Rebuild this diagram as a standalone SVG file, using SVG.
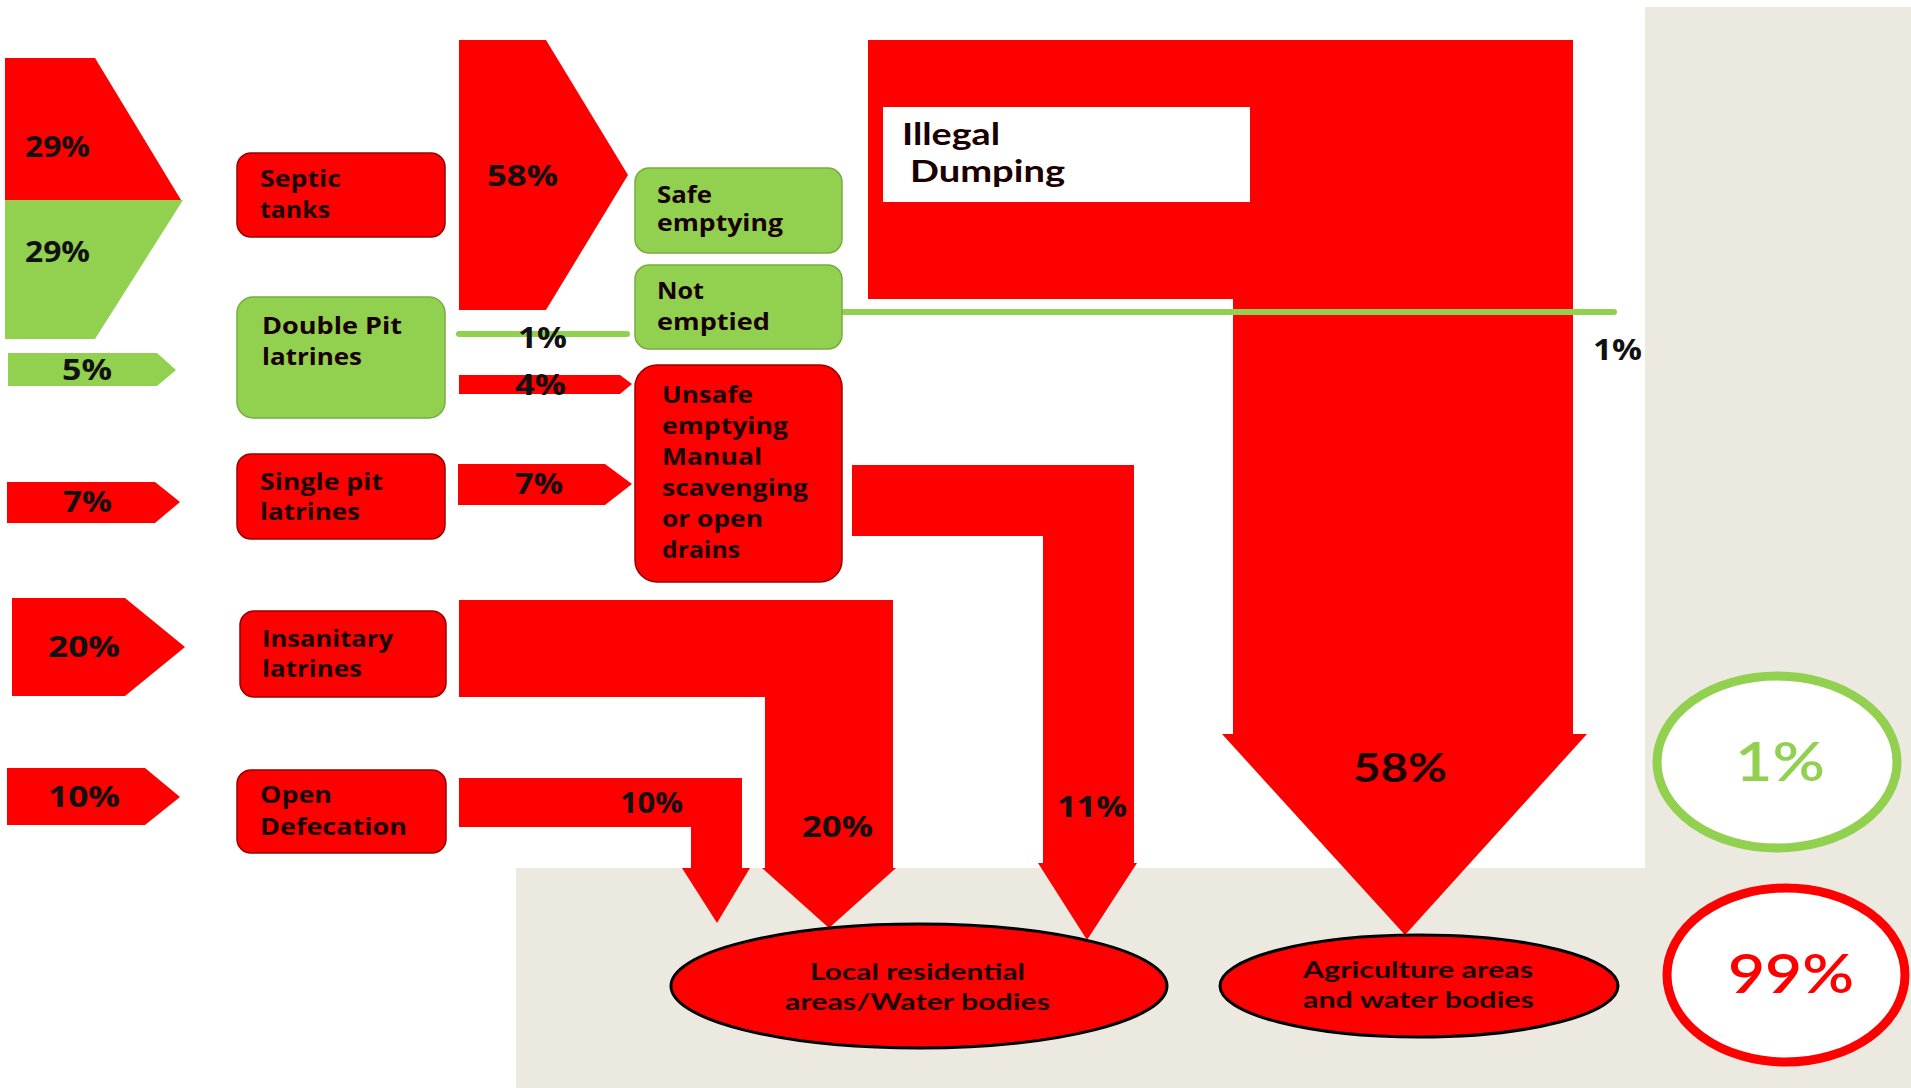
<svg xmlns="http://www.w3.org/2000/svg" width="1911" height="1088" viewBox="0 0 1911 1088">
<style>
.red{fill:#FF0000}
.grn{fill:#92D050}
.box-r{fill:#FF0000;stroke:#9a0000;stroke-width:1.5}
.box-g{fill:#92D050;stroke:#76ad3f;stroke-width:1.5}
.t{font-family:"Open Sans","DejaVu Sans",sans-serif;font-weight:bold;font-size:23px;fill:#1a0000}
.p{font-family:"Open Sans","DejaVu Sans",sans-serif;font-weight:bold;font-size:28px;fill:#111}
.c{font-family:Lato,"Open Sans",sans-serif;font-weight:bold;fill:#1a0000}
.e{fill:#FF0000;stroke:#000;stroke-width:3}
.flowline{stroke:#92D050;stroke-width:6;stroke-linecap:round;fill:none}
</style>
<rect x="0" y="0" width="1911" height="1088" fill="#ffffff"/>
<path d="M516,868 H1645 V7 H1911 V1088 H516 Z" fill="#ECE9E0"/>

<g id="connectors">
  <polygon class="red" points="5,58 95,58 181,200 5,200"/>
  <polygon class="grn" points="5,200 183,200 95,339 5,339"/>
  <polygon class="grn" points="8,353 157,353 176,370 157,386 8,386"/>
  <polygon class="red" points="7,482 155,482 180,502 155,523 7,523"/>
  <polygon class="red" points="12,598 125,598 185,647 125,696 12,696"/>
  <polygon class="red" points="7,768 145,768 180,797 145,825 7,825"/>
  <polygon class="red" points="459,40 546,40 628,175 546,310 459,310"/>
  <line class="flowline" x1="459" y1="334" x2="627" y2="334"/>
  <polygon class="red" points="459,375 620,375 632,384 620,394 459,394"/>
  <polygon class="red" points="458,464 605,464 632,484 605,505 458,505"/>
  <polygon class="red" points="459,600 893,600 893,868 896,868 829,928 762,868 765,868 765,697 459,697"/>
  <polygon class="red" points="459,778 742,778 742,868 750,868 717,923 682,868 691,868 691,827 459,827"/>
  <polygon class="red" points="852,465 1134,465 1134,863 1137,863 1087,940 1038,863 1043,863 1043,536 852,536"/>
  <polygon class="red" points="868,40 1573,40 1573,734 1587,734 1405,935 1222,734 1233,734 1233,299 868,299"/>
  <rect x="883" y="107" width="367" height="95" fill="#ffffff"/>
  <line class="flowline" x1="842" y1="312" x2="1614" y2="312"/>
  <text class="p" x="25" y="157" textLength="65" lengthAdjust="spacingAndGlyphs">29%</text>
  <text class="p" x="25" y="262" textLength="65" lengthAdjust="spacingAndGlyphs">29%</text>
  <text class="p" x="62" y="380" font-size="29" textLength="50" lengthAdjust="spacingAndGlyphs">5%</text>
  <text class="p" x="63" y="512" textLength="49" lengthAdjust="spacingAndGlyphs">7%</text>
  <text class="p" x="48" y="657" font-size="30" textLength="72" lengthAdjust="spacingAndGlyphs">20%</text>
  <text class="p" x="48" y="807" font-size="30" textLength="72" lengthAdjust="spacingAndGlyphs">10%</text>
  <text class="p" x="487" y="186" font-size="30" textLength="71" lengthAdjust="spacingAndGlyphs">58%</text>
  <text class="p" x="518" y="348" textLength="49" lengthAdjust="spacingAndGlyphs">1%</text>
  <text class="p" x="515" y="395" textLength="51" lengthAdjust="spacingAndGlyphs">4%</text>
  <text class="p" x="515" y="494" textLength="48" lengthAdjust="spacingAndGlyphs">7%</text>
  <text class="p" x="620" y="813" font-size="26" textLength="63" lengthAdjust="spacingAndGlyphs">10%</text>
  <text class="p" x="802" y="837" font-size="29" textLength="71" lengthAdjust="spacingAndGlyphs">20%</text>
  <text class="p" x="1057" y="817" font-size="29" textLength="70" lengthAdjust="spacingAndGlyphs">11%</text>
  <text class="p" x="1593" y="360" textLength="49" lengthAdjust="spacingAndGlyphs">1%</text>
  <text class="c" x="902" y="145" font-size="30" fill="#111" textLength="98" lengthAdjust="spacingAndGlyphs">Illegal</text>
  <text class="c" x="910" y="182" font-size="30" fill="#111" textLength="155" lengthAdjust="spacingAndGlyphs">Dumping</text>
  <text class="c" x="1353" y="782" font-size="40" textLength="94" lengthAdjust="spacingAndGlyphs">58%</text>
</g>

<g id="septic-tanks">
  <rect class="box-r" x="237" y="153" width="208" height="84" rx="14"/>
  <text class="t" x="260" y="187" textLength="81" lengthAdjust="spacingAndGlyphs">Septic</text>
  <text class="t" x="260" y="218" textLength="70" lengthAdjust="spacingAndGlyphs">tanks</text>
</g>
<g id="double-pit">
  <rect class="box-g" x="237" y="297" width="208" height="121" rx="16"/>
  <text class="t" x="262" y="334" fill="#111" textLength="140" lengthAdjust="spacingAndGlyphs">Double Pit</text>
  <text class="t" x="262" y="365" fill="#111" textLength="100" lengthAdjust="spacingAndGlyphs">latrines</text>
</g>
<g id="single-pit">
  <rect class="box-r" x="237" y="454" width="208" height="85" rx="14"/>
  <text class="t" x="260" y="490" textLength="123" lengthAdjust="spacingAndGlyphs">Single pit</text>
  <text class="t" x="260" y="520" textLength="100" lengthAdjust="spacingAndGlyphs">latrines</text>
</g>
<g id="insanitary">
  <rect class="box-r" x="240" y="611" width="206" height="86" rx="14"/>
  <text class="t" x="262" y="647" textLength="131" lengthAdjust="spacingAndGlyphs">Insanitary</text>
  <text class="t" x="262" y="677" textLength="100" lengthAdjust="spacingAndGlyphs">latrines</text>
</g>
<g id="open-defecation">
  <rect class="box-r" x="237" y="770" width="209" height="83" rx="14"/>
  <text class="t" x="260" y="803" textLength="72" lengthAdjust="spacingAndGlyphs">Open</text>
  <text class="t" x="260" y="835" textLength="147" lengthAdjust="spacingAndGlyphs">Defecation</text>
</g>
<g id="safe-emptying">
  <rect class="box-g" x="635" y="168" width="207" height="85" rx="14"/>
  <text class="t" x="657" y="203" fill="#111" textLength="55" lengthAdjust="spacingAndGlyphs">Safe</text>
  <text class="t" x="657" y="231" fill="#111" textLength="126" lengthAdjust="spacingAndGlyphs">emptying</text>
</g>
<g id="not-emptied">
  <rect class="box-g" x="635" y="265" width="207" height="84" rx="14"/>
  <text class="t" x="657" y="299" fill="#111" textLength="47" lengthAdjust="spacingAndGlyphs">Not</text>
  <text class="t" x="657" y="330" fill="#111" textLength="113" lengthAdjust="spacingAndGlyphs">emptied</text>
</g>
<g id="unsafe-emptying">
  <rect class="box-r" x="635" y="365" width="207" height="217" rx="22"/>
  <text class="t" x="662" y="403" textLength="91" lengthAdjust="spacingAndGlyphs">Unsafe</text>
  <text class="t" x="662" y="434" textLength="126" lengthAdjust="spacingAndGlyphs">emptying</text>
  <text class="t" x="662" y="465" textLength="100" lengthAdjust="spacingAndGlyphs">Manual</text>
  <text class="t" x="662" y="496" textLength="146" lengthAdjust="spacingAndGlyphs">scavenging</text>
  <text class="t" x="662" y="527" textLength="101" lengthAdjust="spacingAndGlyphs">or open</text>
  <text class="t" x="662" y="558" textLength="78" lengthAdjust="spacingAndGlyphs">drains</text>
</g>
<g id="local-residential">
  <ellipse class="e" cx="919" cy="986" rx="248" ry="62"/>
  <text class="c" x="810" y="980" font-size="23" fill="#3a0000" textLength="215" lengthAdjust="spacingAndGlyphs">Local residential</text>
  <text class="c" x="785" y="1010" font-size="23" fill="#3a0000" textLength="265" lengthAdjust="spacingAndGlyphs">areas/Water bodies</text>
</g>
<g id="agriculture">
  <ellipse class="e" cx="1419" cy="986" rx="199" ry="51"/>
  <text class="c" x="1303" y="978" font-size="23" fill="#3a0000" textLength="230" lengthAdjust="spacingAndGlyphs">Agriculture areas</text>
  <text class="c" x="1303" y="1008" font-size="23" fill="#3a0000" textLength="231" lengthAdjust="spacingAndGlyphs">and water bodies</text>
</g>
<g id="safe-total">
  <ellipse cx="1777" cy="762" rx="120" ry="86" fill="#ffffff" stroke="#92D050" stroke-width="9"/>
  <text x="1735" y="781" font-family="Lato,'Open Sans',sans-serif" font-weight="600" font-size="54" fill="#92D050" textLength="90" lengthAdjust="spacingAndGlyphs">1%</text>
</g>
<g id="unsafe-total">
  <ellipse cx="1786" cy="975" rx="119" ry="87" fill="#ffffff" stroke="#FF0000" stroke-width="9"/>
  <text x="1728" y="993" font-family="Lato,'Open Sans',sans-serif" font-weight="600" font-size="54" fill="#FF0000" textLength="126" lengthAdjust="spacingAndGlyphs">99%</text>
</g>
</svg>
